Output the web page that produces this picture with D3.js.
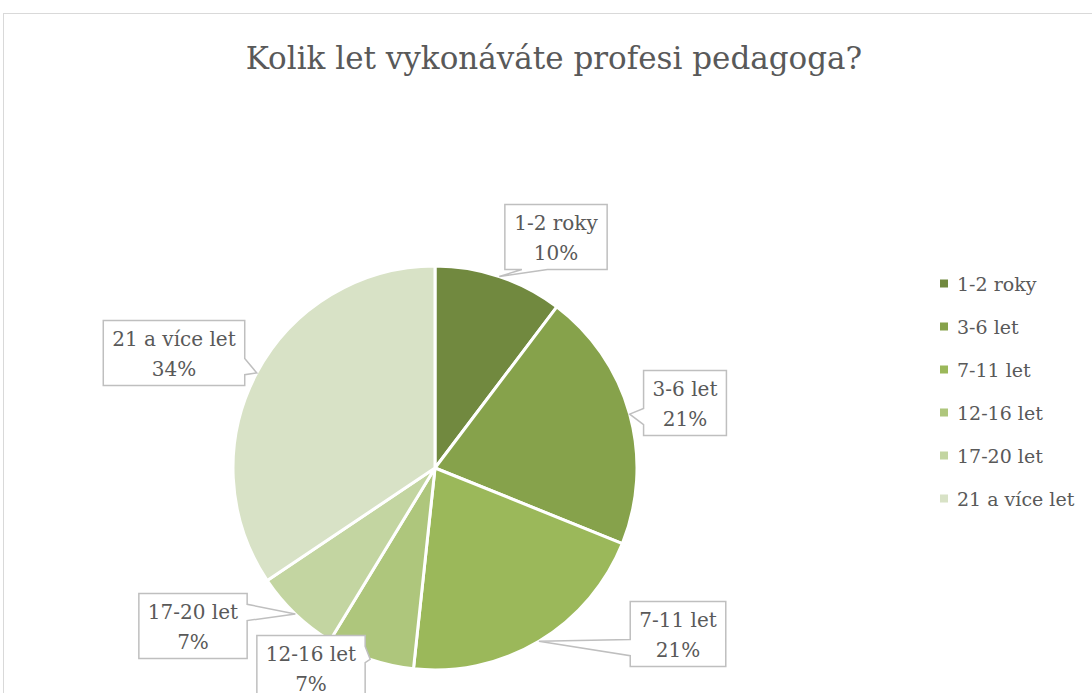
<!DOCTYPE html>
<html>
<head>
<meta charset="utf-8">
<script src="https://cdn.jsdelivr.net/npm/d3@7"></script>
<style>
  html, body { margin: 0; padding: 0; background: #fff; }
  svg { display: block; }
</style>
</head>
<body>
<div id="chart"></div>
<script>
// Kolik let vykonáváte profesi pedagoga? — pie with callout labels

const categories = ["1-2 roky", "3-6 let", "7-11 let", "12-16 let", "17-20 let", "21 a více let"];
const shares     = [10.3, 20.8, 20.6, 7.0, 6.9, 34.4];
const colors     = ["#71893f", "#86a24b", "#9bb85a", "#aec67c", "#c3d5a1", "#d8e2c6"];

// callout box centres, offset from pie centre (layout only)
const calloutOffsets = [
    [121, -231], [250, -65], [243, 166], [-124, 200], [-242, 158], [-261, -115]
];

const W = 1092, H = 693;
const cx = 435, cy = 468, radius = 202;
const textColor = "#595959";
const font = "'DejaVu Serif', serif";

const svg = d3.select("#chart").append("svg")
    .attr("width", W)
    .attr("height", H);

// chart area border (runs off right and bottom)
svg.append("rect")
    .attr("x", 3.5).attr("y", 13.5)
    .attr("width", W + 20).attr("height", H + 20)
    .attr("fill", "#fff")
    .attr("stroke", "#d9d9d9")
    .attr("stroke-width", 1);

// Title
svg.append("text")
    .attr("x", 554).attr("y", 69)
    .attr("text-anchor", "middle")
    .style("font-family", font)
    .style("font-size", "31px")
    .style("fill", textColor)
    .text("Kolik let vykonáváte profesi pedagoga?");

// ── Pie ────────────────────────────────────────────────────────────────
const data = categories.map((c, i) => ({ cat: c, value: shares[i], color: colors[i], off: calloutOffsets[i] }));

const pie = d3.pie().value(d => d.value).sort(null);
const arc = d3.arc().innerRadius(0).outerRadius(radius);
const arcs = pie(data);

const total = d3.sum(shares);
const pct = d3.format(".0%");

const g = svg.append("g").attr("transform", `translate(${cx},${cy})`);

g.selectAll("path.slice")
    .data(arcs)
    .join("path")
    .attr("class", "slice")
    .attr("d", arc)
    .attr("fill", d => d.data.color)
    .attr("stroke", "#fff")
    .attr("stroke-width", 3)
    .attr("stroke-linejoin", "round");

// ── Callouts ───────────────────────────────────────────────────────────
// rectangle with a wedge pointing at (tx, ty), wedge base like Excel's callout
function calloutPath(x0, y0, x1, y1, tx, ty) {
    const w = x1 - x0, h = y1 - y0;
    const mx = (x0 + x1) / 2, my = (y0 + y1) / 2;
    const dx = tx - mx, dy = ty - my;
    const tip = `L${tx},${ty}`;
    if (Math.abs(dx) / w > Math.abs(dy) / h) {
        const a = dy < 0 ? y0 + h * 2 / 12 : y0 + h * 7 / 12;
        const b = dy < 0 ? y0 + h * 5 / 12 : y0 + h * 10 / 12;
        if (dx < 0) return `M${x0},${y0}L${x1},${y0}L${x1},${y1}L${x0},${y1}L${x0},${b}${tip}L${x0},${a}Z`;
        return `M${x0},${y0}L${x1},${y0}L${x1},${a}${tip}L${x1},${b}L${x1},${y1}L${x0},${y1}Z`;
    } else {
        const a = dx < 0 ? x0 + w * 2 / 12 : x0 + w * 7 / 12;
        const b = dx < 0 ? x0 + w * 5 / 12 : x0 + w * 10 / 12;
        if (dy > 0) return `M${x0},${y0}L${x1},${y0}L${x1},${y1}L${b},${y1}${tip}L${a},${y1}L${x0},${y1}Z`;
        return `M${x0},${y0}L${a},${y0}${tip}L${b},${y0}L${x1},${y0}L${x1},${y1}L${x0},${y1}Z`;
    }
}

const labelG = g.append("g");

arcs.forEach(d => {
    const mid = (d.startAngle + d.endAngle) / 2;
    const tx = Math.sin(mid) * radius, ty = -Math.cos(mid) * radius;
    const [bx, by] = d.data.off;

    const grp = labelG.append("g");
    const box = grp.append("path");
    const t = grp.append("text")
        .attr("text-anchor", "middle")
        .style("font-family", font)
        .style("font-size", "20px")
        .style("fill", textColor);
    t.append("tspan").attr("x", bx).attr("y", by - 7).text(d.data.cat);
    t.append("tspan").attr("x", bx).attr("y", by + 23).text(pct(d.data.value / total));

    const tw = t.node().getBBox().width;
    const bw = tw + 18, bh = 65;
    box.attr("d", calloutPath(bx - bw / 2, by - bh / 2, bx + bw / 2, by + bh / 2, tx, ty))
        .attr("fill", "#fff")
        .attr("stroke", "#bfbfbf")
        .attr("stroke-width", 1.5);
});

// ── Legend ─────────────────────────────────────────────────────────────
const legend = svg.append("g").attr("transform", "translate(940, 283.5)");
const rows = legend.selectAll("g")
    .data(data)
    .join("g")
    .attr("transform", (d, i) => `translate(0, ${i * 43})`);

rows.append("rect")
    .attr("x", 0).attr("y", -4)
    .attr("width", 8).attr("height", 8)
    .attr("fill", d => d.color);

rows.append("text")
    .attr("x", 17).attr("y", 7)
    .style("font-family", font)
    .style("font-size", "19px")
    .style("fill", textColor)
    .text(d => d.cat);
</script>
</body>
</html>
